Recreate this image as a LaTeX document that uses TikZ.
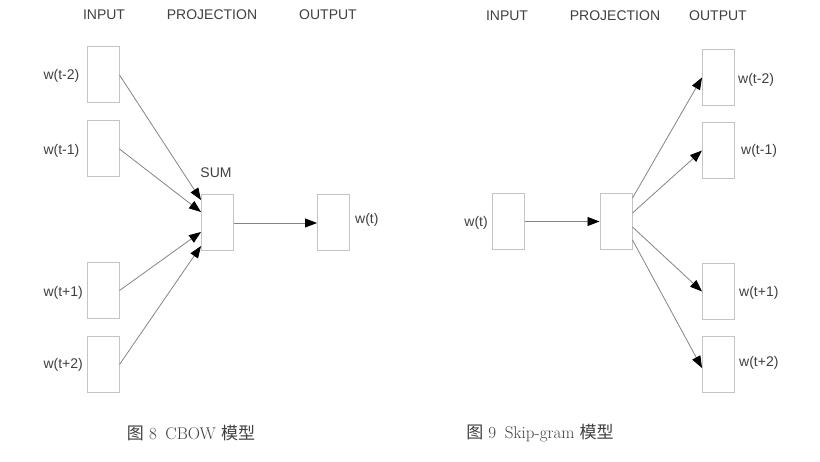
\documentclass[tikz,border=0pt]{standalone}
\usepackage{fontspec}
\setsansfont{Liberation Sans}
\newfontfamily\cjk{Noto Sans CJK SC}
\usetikzlibrary{arrows.meta,calc}
\definecolor{txtgray}{HTML}{404040}
\definecolor{boxgray}{HTML}{C4C4C4}
\definecolor{linegray}{HTML}{858585}
\tikzset{
  lbl/.style={font=\fontsize{14}{16}\selectfont\sffamily, text=txtgray, inner sep=0pt},
  cell/.style={draw=boxgray, line width=1pt, minimum width=32pt, minimum height=56pt, inner sep=0pt, fill=white},
  conn/.style={draw=linegray, line width=0.8pt, -{Triangle[length=12pt,width=9pt,fill=black,color=black]}},
  capt/.style={font=\fontsize{17}{20}\selectfont, text=txtgray, inner sep=0pt}
}
\begin{document}
\begin{tikzpicture}[x=1pt,y=-1pt]
\useasboundingbox[fill=white] (0,0) rectangle (820,462);
% ---------- CBOW ----------
\node[lbl] (h1) at (104,15) {INPUT};
\node[lbl] (h2) at (212,15) {PROJECTION};
\node[lbl] (h3) at (328,15) {OUTPUT};
\node[cell] (i1) at (103,75) {};
\node[cell] (i2) at (103,149) {};
\node[cell] (i3) at (103,290.5) {};
\node[cell] (i4) at (103,364.5) {};
\node[cell] (sum) at (217.5,223) {};
\node[cell] (out) at (333.5,223) {};
\node[lbl, anchor=east] (li1) at (79.5,76) {w(t-2)};
\node[lbl, anchor=east] (li2) at (79.5,151) {w(t-1)};
\node[lbl, anchor=east] (li3) at (83,293) {w(t+1)};
\node[lbl, anchor=east] (li4) at (83,365) {w(t+2)};
\node[lbl] (lsum) at (216,173) {SUM};
\node[lbl, anchor=west] (lout) at (355,220) {w(t)};
\draw[conn] (i1.east) -- ([yshift=23pt]sum.west);
\draw[conn] (i2.east) -- ([yshift=11pt]sum.west);
\draw[conn] (i3.east) -- ([yshift=-9pt]sum.west);
\draw[conn] (i4.east) -- ([yshift=-23pt]sum.west);
\draw[conn] (sum.east) -- (out.west);
% ---------- Skip-gram ----------
\node[lbl] (g1) at (507,16) {INPUT};
\node[lbl] (g2) at (615,16) {PROJECTION};
\node[lbl] (g3) at (718,16) {OUTPUT};
\node[cell] (sin) at (508.5,221.5) {};
\node[cell] (sp) at (616,221.5) {};
\node[cell] (o1) at (718.5,77.5) {};
\node[cell] (o2) at (718.5,150.5) {};
\node[cell] (o3) at (718.5,291.5) {};
\node[cell] (o4) at (718.5,365) {};
\node[lbl, anchor=east] (lsin) at (488,223) {w(t)};
\node[lbl, anchor=west] (lo1) at (738,80) {w(t-2)};
\node[lbl, anchor=west] (lo2) at (741,151) {w(t-1)};
\node[lbl, anchor=west] (lo3) at (739,293) {w(t+1)};
\node[lbl, anchor=west] (lo4) at (739,363) {w(t+2)};
\draw[conn] (sin.east) -- (sp.west);
\draw[conn] ([yshift=23.5pt]sp.east) -- (o1.west);
\draw[conn] ([yshift=8.5pt]sp.east) -- (o2.west);
\draw[conn] ([yshift=-5.5pt]sp.east) -- (o3.west);
\draw[conn] ([yshift=-18.5pt]sp.east) -- ([yshift=-3pt]o4.west);
% ---------- captions ----------
\node[capt] (c1) at (191,433) {{\cjk 图}~8\hspace{0.5em}CBOW {\cjk 模型}};
\node[capt] (c2) at (540,433) {{\cjk 图}~9\hspace{0.5em}Skip-gram {\cjk 模型}};
\end{tikzpicture}
\end{document}
